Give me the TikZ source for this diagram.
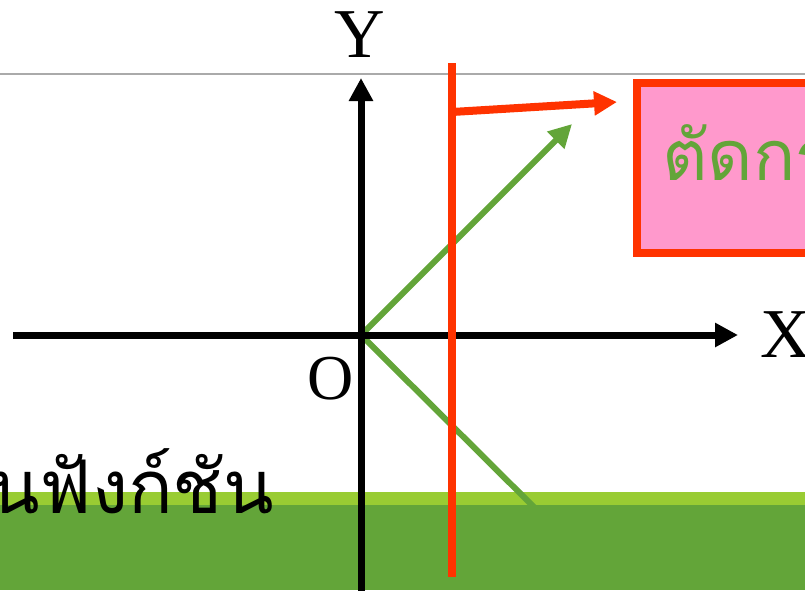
\documentclass[tikz,border=0pt]{standalone}
\usepackage{fontspec}
\setmainfont{Liberation Serif}
\newfontfamily\thaifont[Script=Thai]{Loma}
\usetikzlibrary{arrows.meta}
\definecolor{slidegreen}{RGB}{99,165,57}
\definecolor{lightgreen}{RGB}{153,204,51}
\definecolor{cutred}{RGB}{255,51,0}
\definecolor{boxpink}{RGB}{255,153,204}
\definecolor{rulegray}{RGB}{170,170,170}

\begin{document}
\begin{tikzpicture}[x=1pt, y=-1pt, >={Triangle[length=23pt,width=23pt]},
    axis/.style={line width=7pt, ->},
    vec/.style={line width=6pt, slidegreen},
    cut/.style={line width=8pt, cutred},
    lbl/.style={inner sep=0pt, font=\fontsize{70}{80}\selectfont}]
    \useasboundingbox (0,0) rectangle (805,590);
    \clip (0,0) rectangle (805,590);

    % slide background
    \draw[rulegray, line width=2pt] (0,74) -- (805,74);
    \fill[lightgreen] (0,492) rectangle (805,590);

    \coordinate (O) at (361,335);
    \coordinate (xstart) at (13,335);
    \coordinate (xend) at (738,335);
    \coordinate (ystart) at (361,595);
    \coordinate (yend) at (361,78);
    \coordinate (up) at (572,124);
    \coordinate (down) at (560,533);

    \draw[vec] (O) -- (down);
    \fill[slidegreen] (0,505) rectangle (805,590);
    \draw[vec, ->] (O) -- (up);

    \draw[axis] (xstart) -- (xend);
    \draw[axis] (ystart) -- (yend);

    \node[lbl, anchor=base] (ylabel) at (360,57) {Y};
    \node[lbl, anchor=base west] (xlabel) at (760,357) {X};
    \node[lbl, anchor=base west, font=\fontsize{64}{72}\selectfont] (olabel) at (307,399) {O};

    % vertical test line
    \coordinate (rtop) at (452,63);
    \coordinate (rbot) at (452,577);
    \coordinate (rjoin) at (452,112);
    \coordinate (rtip) at (617,102);
    \draw[cut] (rtop) -- (rbot);
    \draw[cut, ->] (rjoin) -- (rtip);

    \node[draw=cutred, fill=boxpink, line width=8pt, anchor=north west,
          minimum width=250pt, minimum height=170pt] (box) at (633,79) {};
    \node[inner sep=0pt, anchor=base west, text=slidegreen,
          font=\thaifont\fontsize{70}{78}\selectfont] (cuttext) at (662,180) {ตัดกราฟ};

    \node[inner sep=0pt, anchor=base east,
          font=\thaifont\fontsize{74}{82}\selectfont] (functext) at (274,513) {เป็นฟังก์ชัน};
\end{tikzpicture}
\end{document}
